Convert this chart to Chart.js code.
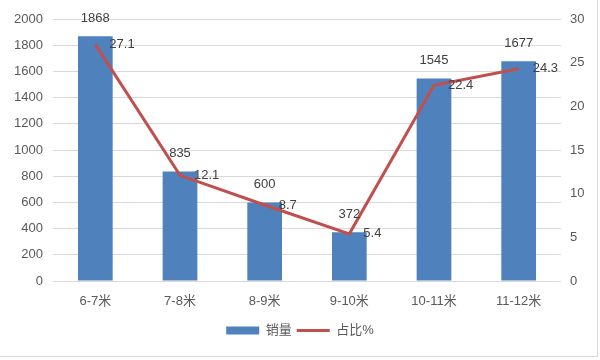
<!DOCTYPE html>
<html>
<head>
<meta charset="utf-8">
<script src="https://cdn.jsdelivr.net/npm/chart.js@4/dist/chart.umd.min.js"></script>
<style>
  html, body { margin: 0; padding: 0; background: #fff; }
  #wrap { position: relative; width: 600px; height: 360px; }
  #wrap::after { content: ""; position: absolute; left: 0; top: 0; width: 597px; height: 356px;
    border-right: 1px solid #d9d9d9; border-bottom: 1px solid #d9d9d9; pointer-events: none; }
  canvas { display: block; }
</style>
</head>
<body>
<div id="wrap"><canvas id="c" width="600" height="360"></canvas></div>
<script>
const categories = ["6-7米", "7-8米", "8-9米", "9-10米", "10-11米", "11-12米"];
const salesValues = [1868, 835, 600, 372, 1545, 1677];
const shareValues = [27.1, 12.1, 8.7, 5.4, 22.4, 24.3];
const seriesNames = ["销量", "占比%"];

const FONT = '"Liberation Sans", "Noto Sans CJK SC", sans-serif';
const TICK_COLOR = '#595959';

const labelPlugin = {
  id: 'valueLabels',
  afterDatasetsDraw(chart) {
    const ctx = chart.ctx;
    ctx.save();
    ctx.font = '13px ' + FONT;
    ctx.fillStyle = '#404040';
    ctx.textBaseline = 'middle';
    const barMeta = chart.getDatasetMeta(0);
    barMeta.data.forEach((el, i) => {
      ctx.textAlign = 'center';
      ctx.fillText(String(salesValues[i]), el.x, el.y - 18);
    });
    const lineMeta = chart.getDatasetMeta(1);
    lineMeta.data.forEach((el, i) => {
      ctx.textAlign = 'left';
      ctx.fillText(shareValues[i].toFixed(1), el.x + 14, el.y);
    });
    ctx.restore();
  }
};

new Chart(document.getElementById('c'), {
  data: {
    labels: categories,
    datasets: [
      {
        type: 'bar', label: seriesNames[0], data: salesValues, yAxisID: 'y',
        backgroundColor: '#4F81BD', borderWidth: 0,
        barPercentage: 0.41, categoryPercentage: 1.0, order: 1
      },
      {
        type: 'line', label: seriesNames[1], data: shareValues, yAxisID: 'y1',
        borderColor: '#C0504D', backgroundColor: '#C0504D', borderWidth: 3,
        pointRadius: 0, tension: 0, order: 0
      }
    ]
  },
  options: {
    responsive: false,
    animation: false,
    layout: { padding: { top: 19, left: 0, right: 0, bottom: 13 } },
    plugins: {
      tooltip: { enabled: false },
      legend: {
        position: 'bottom',
        labels: {
          font: { size: 13, family: FONT },
          color: TICK_COLOR,
          usePointStyle: true,
          pointStyleWidth: 33,
          boxHeight: 8,
          padding: 5,
          sort: (a, b) => a.datasetIndex - b.datasetIndex,
          generateLabels(chart) {
            const items = Chart.defaults.plugins.legend.labels.generateLabels(chart);
            items.forEach(it => {
              if (it.datasetIndex === 0) { it.pointStyle = 'rect'; it.lineWidth = 0; it.fillStyle = '#4F81BD'; }
              else { it.pointStyle = 'line'; it.lineWidth = 3; it.strokeStyle = '#C0504D'; }
            });
            return items;
          }
        }
      }
    },
    scales: {
      x: {
        grid: { display: false },
        border: { display: false },
        ticks: { color: TICK_COLOR, font: { size: 13, family: FONT }, padding: 5, maxRotation: 0 },
        afterFit(s) { s.height = 38; }
      },
      y: {
        position: 'left', min: 0, max: 2000,
        ticks: { stepSize: 200, color: TICK_COLOR, font: { size: 13, family: FONT }, padding: 10,
                 callback: v => String(v) },
        grid: { color: '#d9d9d9', drawTicks: false, lineWidth: 1 },
        border: { display: false },
        afterFit(s) { s.width = 53; }
      },
      y1: {
        position: 'right', min: 0, max: 30,
        ticks: { stepSize: 5, color: TICK_COLOR, font: { size: 13, family: FONT }, padding: 9,
                 callback: v => String(v) },
        grid: { display: false, drawTicks: false },
        border: { display: false },
        afterFit(s) { s.width = 39; }
      }
    }
  },
  plugins: [labelPlugin]
});
</script>
</body>
</html>
